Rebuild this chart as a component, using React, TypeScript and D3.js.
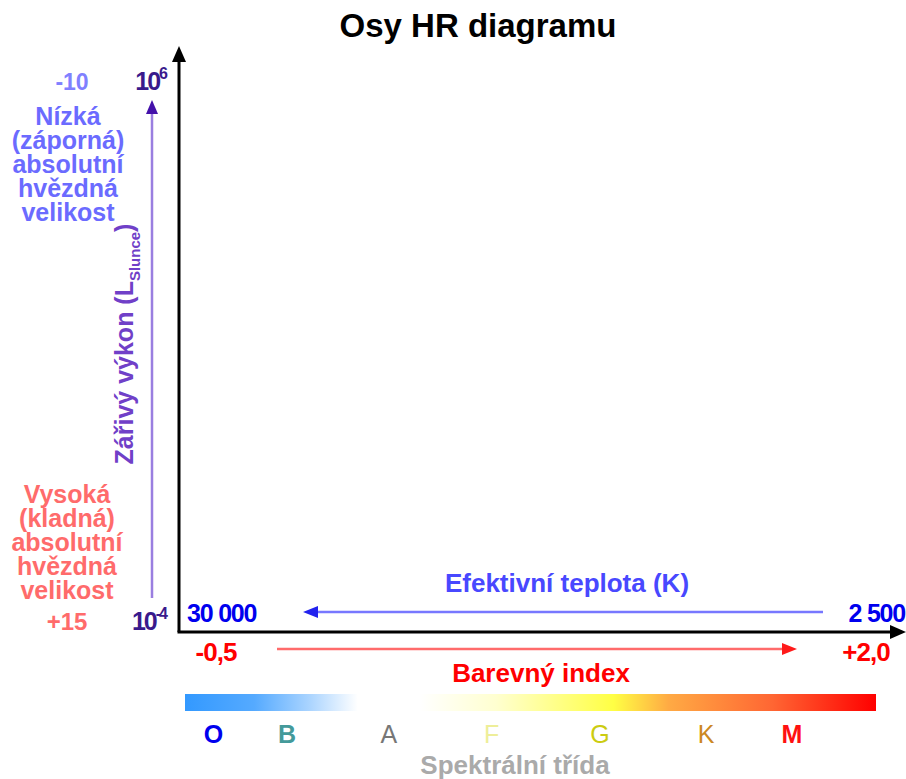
import React from "react";
import * as d3 from "d3";

// ---- data ----
const title = "Osy HR diagramu";
const luminosityExponents = [6, -4];
const magnitudeLabels = ["-10", "+15"];
const brightText = ["Nízká", "(záporná)", "absolutní", "hvězdná", "velikost"];
const faintText = ["Vysoká", "(kladná)", "absolutní", "hvězdná", "velikost"];
const temperatureLabels = ["30 000", "2 500"];
const colorIndexValues = [-0.5, 2.0];
const colorIndexLabels = ["-0,5", "+2,0"];
const spectralClasses = ["O", "B", "A", "F", "G", "K", "M"];
const spectralColorIndex = [-0.51, -0.227, 0.165, 0.56, 0.977, 1.385, 1.715];
const spectralColors = ["#0000ee", "#449a9a", "#777777", "#eeee99", "#cccc11", "#cc8822", "#ff1111"];
const spectralBold = [true, true, false, false, false, false, true];
const gradientOffsets = [0, 0.1, 0.18, 0.25, 0.34, 0.45, 0.62, 0.7, 0.85, 1];
const gradientColors = ["#3399ff", "#55aaff", "#aad4ff", "#ffffff", "#ffffff", "#ffffd0", "#ffff44", "#ffaa44", "#ff6633", "#ff0000"];

const FONT = "'Liberation Sans', Arial, Helvetica, sans-serif";

export default function App() {
  const W = 906, H = 779;
  const ox = 179, oy = 632; // axis origin
  const xCI = d3.scaleLinear().domain(colorIndexValues).range([216, 866]);
  const yL = d3.scaleLog().domain([1e-4, 1e6]).range([630, 90]);
  const lineY = d3.scaleLinear().domain([0, 4]).range([0, 96]);

  const arrowHead = (x: number, y: number, dir: "up" | "left" | "right", len: number, half: number) => {
    if (dir === "up") return `M${x},${y} L${x - half},${y + len} L${x + half},${y + len} Z`;
    if (dir === "left") return `M${x},${y} L${x + len},${y - half} L${x + len},${y + half} Z`;
    return `M${x},${y} L${x - len},${y - half} L${x - len},${y + half} Z`;
  };

  const bar = { x: 185, y: 694, w: 691, h: 17 };

  return (
    <svg width={W} height={H} style={{ position: "absolute", left: 0, top: 0, background: "#fff" }} fontFamily={FONT}>
      <defs>
        <linearGradient id="spec" x1="0" x2="1" y1="0" y2="0">
          {gradientOffsets.map((o, i) => (
            <stop key={i} offset={o} stopColor={gradientColors[i]} />
          ))}
        </linearGradient>
      </defs>
      <rect width={W} height={H} fill="#fff" />
      {/* title */}
      <text x={478} y={37} textAnchor="middle" fontSize={33} fontWeight="bold" fill="#000">{title}</text>

      {/* main axes */}
      <line x1={ox} y1={oy} x2={ox} y2={60} stroke="#000" strokeWidth={3} />
      <path d={arrowHead(ox, 46, "up", 16, 7)} fill="#000" />
      <line x1={ox - 1.5} y1={oy} x2={893} y2={oy} stroke="#000" strokeWidth={3} />
      <path d={arrowHead(906, oy, "right", 16, 7)} fill="#000" />

      {/* luminosity arrow */}
      <line x1={152} y1={598} x2={152} y2={110} stroke="#9a7ee0" strokeWidth={2.5} />
      <path d={arrowHead(152, 100, "up", 14, 6)} fill="#4411aa" />
      {luminosityExponents.map((e) => (
        <text key={e} x={166} y={yL(Math.pow(10, e))} textAnchor="end" fontSize={25} fontWeight="bold" fill="#3a1a8c" letterSpacing={-2}>
          10<tspan fontSize={16} dy={-11}>{e}</tspan>
        </text>
      ))}
      <text transform="translate(133,344) rotate(-90)" textAnchor="middle" fontSize={25} fontWeight="bold" fill="#7040c8">
        Zářivý výkon (L<tspan fontSize={15} dy={7}>Slunce</tspan><tspan dy={-7}>)</tspan>
      </text>

      {/* magnitude labels */}
      <text x={72} y={90} textAnchor="middle" fontSize={23} fontWeight="bold" fill="#8080ff">{magnitudeLabels[0]}</text>
      {brightText.map((t, i) => (
        <text key={"b" + i} x={68} y={125 + lineY(i)} textAnchor="middle" fontSize={25} fontWeight="bold" fill="#6b6bff">{t}</text>
      ))}
      {faintText.map((t, i) => (
        <text key={"f" + i} x={67} y={503 + lineY(i)} textAnchor="middle" fontSize={25} fontWeight="bold" fill="#ff6b6b">{t}</text>
      ))}
      <text x={67} y={630} textAnchor="middle" fontSize={24} fontWeight="bold" fill="#ff6b6b">{magnitudeLabels[1]}</text>

      {/* temperature */}
      <text x={187} y={622} textAnchor="start" fontSize={25} fontWeight="bold" fill="#0000ee" letterSpacing={-1.2}>{temperatureLabels[0]}</text>
      <text x={905} y={622} textAnchor="end" fontSize={25} fontWeight="bold" fill="#0000ee" letterSpacing={-1.2}>{temperatureLabels[1]}</text>
      <line x1={823} y1={612} x2={312} y2={612} stroke="#7777ff" strokeWidth={2.5} />
      <path d={arrowHead(303, 612, "left", 15, 6)} fill="#2222ee" />
      <text x={567} y={592} textAnchor="middle" fontSize={26} fontWeight="bold" fill="#4848ff">Efektivní teplota (K)</text>

      {/* colour index */}
      {colorIndexValues.map((v, i) => (
        <text key={v} x={xCI(v)} y={661} textAnchor="middle" fontSize={26} fontWeight="bold" fill="#ff0000" letterSpacing={-1}>{colorIndexLabels[i]}</text>
      ))}
      <line x1={277} y1={649} x2={788} y2={649} stroke="#ff6b6b" strokeWidth={2.5} />
      <path d={arrowHead(797, 649, "right", 15, 6)} fill="#ff1a1a" />
      <text x={541} y={682} textAnchor="middle" fontSize={26} fontWeight="bold" fill="#ff0000">Barevný index</text>

      {/* spectral bar */}
      <rect x={bar.x} y={bar.y} width={bar.w} height={bar.h} fill="url(#spec)" />
      {spectralClasses.map((c, i) => (
        <text key={c} x={xCI(spectralColorIndex[i])} y={743} textAnchor="middle" fontSize={25} fontWeight={spectralBold[i] ? "bold" : "normal"} fill={spectralColors[i]}>{c}</text>
      ))}
      <text x={515} y={774} textAnchor="middle" fontSize={26} fontWeight="bold" fill="#aaaaaa">Spektrální třída</text>
    </svg>
  );
}
